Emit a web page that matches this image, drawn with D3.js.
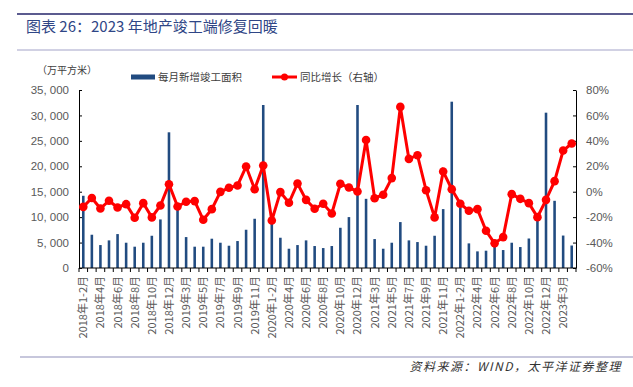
<!DOCTYPE html>
<html>
<head>
<meta charset="utf-8">
<script src="https://cdn.jsdelivr.net/npm/d3@7"></script>
<style>
  body { margin: 0; background: #fff; }
  svg { display: block; }
</style>
</head>
<body>
<div class="chart"></div>
<script>
// months: 2018年1-2月 ... 2023年4月
var categories = [
  "2018年1-2月","2018年3月","2018年4月","2018年5月","2018年6月","2018年7月","2018年8月","2018年9月","2018年10月","2018年11月","2018年12月",
  "2019年1-2月","2019年3月","2019年4月","2019年5月","2019年6月","2019年7月","2019年8月","2019年9月","2019年10月","2019年11月","2019年12月",
  "2020年1-2月","2020年3月","2020年4月","2020年5月","2020年6月","2020年7月","2020年8月","2020年9月","2020年10月","2020年11月","2020年12月",
  "2021年1-2月","2021年3月","2021年4月","2021年5月","2021年6月","2021年7月","2021年8月","2021年9月","2021年10月","2021年11月","2021年12月",
  "2022年1-2月","2022年3月","2022年4月","2022年5月","2022年6月","2022年7月","2022年8月","2022年9月","2022年10月","2022年11月","2022年12月",
  "2023年1-2月","2023年3月","2023年4月"
];

// 每月新增竣工面积（万平方米）
var area = [
  14200, 6540, 4510, 5430, 6670, 4970, 4190, 4970, 6340, 9550, 26680,
  11800, 6080, 4190, 4190, 5760, 4970, 4380, 5300, 7520, 9680, 32050,
  8800, 5950, 3790, 4510, 5430, 4320, 3920, 4320, 7910, 10010, 32050,
  13600, 5690, 3790, 4970, 9030, 5430, 5100, 4380, 6340, 11580, 32700,
  11900, 4840, 3270, 3400, 4200, 3530, 4970, 4120, 5800, 9500, 30540,
  13210, 6380, 4420
];

// 同比增长（%，右轴）
var yoy = [
  -11.9, -5.0, -13.2, -7.1, -12.4, -9.8, -20.5, -9.0, -20.2, -10.8, 5.9,
  -11.6, -7.9, -7.4, -22.1, -13.7, -0.1, 3.1, 4.9, 19.8, 2.0, 20.6,
  -22.6, -0.3, -8.7, 6.5, -6.4, -13.4, -9.5, -17.1, 6.2, 3.3, 0.2,
  40.7, -5.1, -2.4, 10.7, 66.7, 25.8, 28.7, 1.2, -20.2, 15.9, 2.0,
  -9.5, -15.0, -13.7, -30.7, -40.6, -35.7, -1.9, -5.6, -9.0, -20.0, -6.4,
  8.3, 32.4, 37.9
];

var leftTicks = [0, 5000, 10000, 15000, 20000, 25000, 30000, 35000];
var rightTicks = [-60, -40, -20, 0, 20, 40, 60, 80];

var svgWidth = 633;
var svgHeight = 387;

var plot = { left: 79, right: 576, top: 90, bottom: 268 };

var cjk = "'Noto Sans CJK SC', 'Noto Sans', sans-serif";
var latin = "'Liberation Sans', Arial, sans-serif";

var svg = d3.select(".chart")
  .append("svg")
  .attr("width", svgWidth)
  .attr("height", svgHeight);

// header rules and title
svg.append("line")
  .attr("x1", 17).attr("x2", 633).attr("y1", 14).attr("y2", 14)
  .attr("stroke", "#5b5b8f").attr("stroke-width", 2);

svg.append("text")
  .attr("x", 26).attr("y", 32)
  .attr("font-family", cjk)
  .attr("font-size", 15)
  .attr("fill", "#2f4686")
  .text("图表 26：2023 年地产竣工端修复回暖");

svg.append("line")
  .attr("x1", 17).attr("x2", 633).attr("y1", 50).attr("y2", 50)
  .attr("stroke", "#a3a3c8").attr("stroke-width", 1);

svg.append("line")
  .attr("x1", 20).attr("x2", 633).attr("y1", 357).attr("y2", 357)
  .attr("stroke", "#b4b4d0").attr("stroke-width", 1.5);

svg.append("text")
  .attr("x", 622).attr("y", 371)
  .attr("text-anchor", "end")
  .attr("font-family", cjk)
  .attr("font-size", 12)
  .attr("font-style", "italic")
  .attr("letter-spacing", 1.5)
  .attr("fill", "#333")
  .text("资料来源：WIND，太平洋证券整理");

// unit label
svg.append("text")
  .attr("x", 37).attr("y", 74)
  .attr("font-family", cjk)
  .attr("font-size", 10)
  .attr("fill", "#404040")
  .text("（万平方米）");

// scales
var x = d3.scaleBand()
  .domain(categories)
  .range([plot.left, plot.right])
  .paddingInner(0.7)
  .paddingOuter(0.35);

var yLeft = d3.scaleLinear()
  .domain([0, 35000])
  .range([plot.bottom, plot.top]);

var yRight = d3.scaleLinear()
  .domain([-60, 80])
  .range([plot.bottom, plot.top]);

// bars
svg.append("g")
  .selectAll("rect")
  .data(area)
  .enter()
  .append("rect")
  .attr("x", (d, i) => x(categories[i]))
  .attr("width", x.bandwidth())
  .attr("y", d => yLeft(d))
  .attr("height", d => plot.bottom - yLeft(d))
  .attr("fill", "#214b80");

// left axis
var leftAxis = d3.axisLeft(yLeft)
  .tickValues(leftTicks)
  .tickSizeInner(-3)
  .tickSizeOuter(0)
  .tickPadding(10)
  .tickFormat(d => d3.format(",")(d).replace(",", ", "));

svg.append("g")
  .attr("transform", `translate(${plot.left},0)`)
  .call(leftAxis)
  .call(g => g.select(".domain").attr("stroke", "#000"))
  .call(g => g.selectAll(".tick line").attr("stroke", "#000"))
  .call(g => g.selectAll("text")
    .attr("font-family", latin)
    .attr("font-size", 11.5)
    .attr("fill", "#595959"));

// right axis
var rightAxis = d3.axisRight(yRight)
  .tickValues(rightTicks)
  .tickSizeInner(-3)
  .tickSizeOuter(0)
  .tickPadding(10)
  .tickFormat(d => d + "%");

svg.append("g")
  .attr("transform", `translate(${plot.right},0)`)
  .call(rightAxis)
  .call(g => g.select(".domain").attr("stroke", "#000"))
  .call(g => g.selectAll(".tick line").attr("stroke", "#000"))
  .call(g => g.selectAll("text")
    .attr("font-family", latin)
    .attr("font-size", 11.5)
    .attr("fill", "#595959"));

// bottom axis: ticks at category boundaries, labels every other month
var step = x.step();
var bottom = svg.append("g");

bottom.append("line")
  .attr("x1", plot.left).attr("x2", plot.right)
  .attr("y1", plot.bottom).attr("y2", plot.bottom)
  .attr("stroke", "#000");

bottom.selectAll("line.tk")
  .data(d3.range(categories.length + 1))
  .enter()
  .append("line")
  .attr("class", "tk")
  .attr("x1", i => plot.left + i * step)
  .attr("x2", i => plot.left + i * step)
  .attr("y1", plot.bottom)
  .attr("y2", plot.bottom + 4)
  .attr("stroke", "#000");

bottom.selectAll("text")
  .data(categories.filter((c, i) => i % 2 === 0))
  .enter()
  .append("text")
  .attr("transform", d => `translate(${x(d) + x.bandwidth() / 2 + 4},${plot.bottom + 8}) rotate(-90)`)
  .attr("text-anchor", "end")
  .attr("font-family", cjk)
  .attr("font-size", 11)
  .attr("fill", "#595959")
  .text(d => d);

// yoy line
var cx = (d, i) => x(categories[i]) + x.bandwidth() / 2;

var line = d3.line()
  .x(cx)
  .y(d => yRight(d));

svg.append("path")
  .datum(yoy)
  .attr("d", line)
  .attr("fill", "none")
  .attr("stroke", "#ff0000")
  .attr("stroke-width", 3);

svg.append("g")
  .selectAll("circle")
  .data(yoy)
  .enter()
  .append("circle")
  .attr("cx", cx)
  .attr("cy", d => yRight(d))
  .attr("r", 4.3)
  .attr("fill", "#ff0000");

// legend
var legend = svg.append("g");

legend.append("rect")
  .attr("x", 131).attr("y", 74.5)
  .attr("width", 24).attr("height", 5)
  .attr("fill", "#214b80");

legend.append("text")
  .attr("x", 158).attr("y", 81)
  .attr("font-family", cjk)
  .attr("font-size", 10.5)
  .attr("fill", "#404040")
  .text("每月新增竣工面积");

legend.append("line")
  .attr("x1", 272).attr("x2", 297)
  .attr("y1", 77).attr("y2", 77)
  .attr("stroke", "#ff0000")
  .attr("stroke-width", 3);

legend.append("circle")
  .attr("cx", 284.5).attr("cy", 77)
  .attr("r", 3.5)
  .attr("fill", "#ff0000");

legend.append("text")
  .attr("x", 300).attr("y", 81)
  .attr("font-family", cjk)
  .attr("font-size", 10.5)
  .attr("fill", "#404040")
  .text("同比增长（右轴）");
</script>
</body>
</html>
